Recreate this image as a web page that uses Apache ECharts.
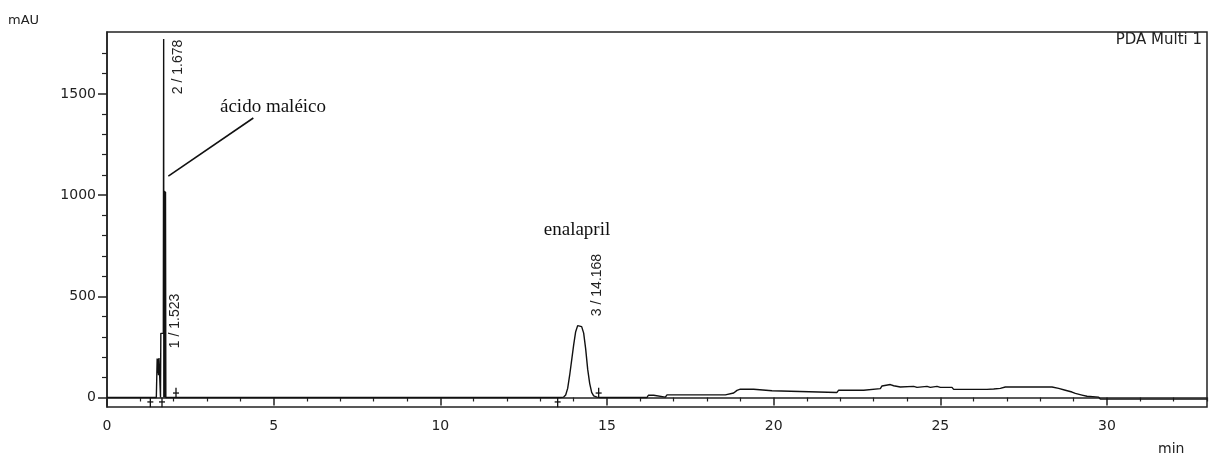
<!DOCTYPE html>
<html>
<head>
<meta charset="utf-8">
<script src="https://cdn.jsdelivr.net/npm/echarts@6/dist/echarts.min.js"></script>
<style>
  html, body { margin: 0; padding: 0; background: #fff; }
  #chart { width: 1215px; height: 455px; }
</style>
</head>
<body>
<div id="chart"></div>
<script>
// retention time (min) and absorbance (mAU) of the PDA trace
var traceTime = [
  0, 1.48, 1.50, 1.505, 1.53, 1.535, 1.54, 1.545, 1.55, 1.56, 1.60, 1.605, 1.61, 1.615, 1.69,
  1.70, 1.705, 1.715, 1.725, 1.735, 1.745, 1.755, 1.765, 1.80,
  13.60, 13.70, 13.76, 13.82, 13.88, 13.94, 14.00, 14.06, 14.12, 14.18, 14.24, 14.30, 14.36,
  14.42, 14.48, 14.54, 14.60, 14.70, 14.80,
  16.20, 16.24, 16.40, 16.45, 16.75, 16.80, 18.55, 18.60, 18.80, 18.90, 19.00, 19.40, 19.45,
  19.95, 20.00, 21.90, 21.95, 22.70, 22.75, 23.20, 23.25, 23.50, 23.60, 23.80, 24.20, 24.30,
  24.60, 24.70, 24.90, 25.00, 25.35, 25.40, 26.40, 26.45, 26.60, 26.80, 26.95, 28.35, 28.55,
  28.75, 28.95, 29.05, 29.25, 29.40, 29.75, 29.80, 33.00
];
var traceAbs = [
  0, 0, 0, 193, 195, 120, 190, 110, 180, 195, 190, 0, 0, 317, 317,
  1772, 0, 1022, 0, 1020, 0, 1015, 0, 0,
  0, 2, 12, 45, 110, 185, 260, 325, 355, 362, 350, 318, 240,
  140, 70, 25, 8, 2, 0,
  0, 11, 11, 2, 2, 13, 13, 20, 22, 35, 41, 41, 33,
  33, 26, 25, 36, 36, 44, 44, 57, 64, 58, 52, 55, 50,
  55, 50, 55, 50, 50, 40, 40, 49, 42, 45, 52, 52, 45,
  36, 27, 20, 12, 6, 2, -8, -8
];

// integration start/end marks: time, side (-1 below baseline, 1 above)
var markTime = [1.30, 1.65, 2.07, 13.52, 14.75];
var markSide = [-1, -1, 1, -1, 1];

// leader line for "ácido maléico"
var leaderLine = [[4.39, 1381], [1.84, 1094]];

var xMajor = [0, 5, 10, 15, 20, 25, 30];
var xMinor = [1, 2, 3, 4, 6, 7, 8, 9, 11, 12, 13, 14, 16, 17, 18, 19, 21, 22, 23, 24, 26, 27, 28, 29, 31, 32, 33];
var yMajor = [0, 500, 1000, 1500];
var yMinor = [100, 200, 300, 400, 600, 700, 800, 900, 1100, 1200, 1300, 1400, 1600, 1700];

var trace = traceTime.map(function (t, i) { return [t, traceAbs[i]]; });
var marks = markTime.map(function (t, i) { return [t, markSide[i]]; });

var chart = echarts.init(document.getElementById('chart'));
var axisFont = { fontFamily: 'DejaVu Sans', fontSize: 14, color: '#222' };
var plain = function (v) { return String(v); };

chart.setOption({
  animation: false,
  backgroundColor: '#fff',
  grid: {
    left: 107, right: 8, top: 32, bottom: 48,
    show: true, borderColor: '#222', borderWidth: 1.5
  },
  xAxis: [
    {
      type: 'value', min: 0, max: 33,
      axisLine: { lineStyle: { color: '#222', width: 1.5 } },
      axisTick: { customValues: xMajor, length: 8, lineStyle: { color: '#222', width: 1.5 } },
      axisLabel: Object.assign({ customValues: xMajor, margin: 12, formatter: plain }, axisFont),
      splitLine: { show: false }
    },
    {
      type: 'value', min: 0, max: 33, position: 'bottom',
      axisLine: { show: false },
      axisTick: { customValues: xMinor, length: 4, lineStyle: { color: '#222', width: 1.2 } },
      axisLabel: { show: false },
      splitLine: { show: false }
    }
  ],
  yAxis: [
    {
      type: 'value', min: -47, max: 1806,
      axisLine: { show: true, lineStyle: { color: '#222', width: 1.5 } },
      axisTick: { show: true, customValues: yMajor, length: 9, lineStyle: { color: '#222', width: 1.5 } },
      axisLabel: Object.assign({ customValues: yMajor, margin: 11, formatter: plain }, axisFont),
      splitLine: { show: false }
    },
    {
      type: 'value', min: -47, max: 1806, position: 'left',
      axisLine: { show: false },
      axisTick: { show: true, customValues: yMinor, length: 5, lineStyle: { color: '#222', width: 1.2 } },
      axisLabel: { show: false },
      splitLine: { show: false }
    }
  ],
  series: [
    {
      name: 'PDA Multi 1',
      type: 'line',
      data: trace,
      showSymbol: false,
      lineStyle: { color: '#111', width: 1.4 }
    },
    {
      name: 'leader',
      type: 'line',
      data: leaderLine,
      showSymbol: false,
      lineStyle: { color: '#111', width: 1.6 }
    },
    {
      name: 'marks',
      type: 'custom',
      data: marks,
      renderItem: function (params, api) {
        var t = api.value(0), side = api.value(1);
        var p0 = api.coord([t, 0]);
        var p1 = api.coord([t, side * 48]);
        var bar = api.coord([t, side * 22]);
        var style = { stroke: '#111', lineWidth: 1.3 };
        return {
          type: 'group',
          children: [
            { type: 'line', shape: { x1: p0[0], y1: p0[1], x2: p1[0], y2: p1[1] }, style: style },
            { type: 'line', shape: { x1: p0[0] - 3, y1: bar[1], x2: p0[0] + 3, y2: bar[1] }, style: style }
          ]
        };
      }
    }
  ],
  graphic: [
    { type: 'text', left: 8, top: 14, style: { text: 'mAU', font: '13px "DejaVu Sans"', fill: '#222' } },
    { type: 'text', left: 1158, top: 442, style: { text: 'min', font: '14px "DejaVu Sans"', fill: '#222' } },
    { type: 'text', right: 13, top: 33, style: { text: 'PDA Multi 1', font: '15px "DejaVu Sans"', fill: '#222' } },
    { type: 'text', x: 220, y: 107, style: { text: 'ácido maléico', font: '19px "Liberation Serif"', fill: '#111', verticalAlign: 'middle' } },
    { type: 'text', x: 577, y: 230, style: { text: 'enalapril', font: '19px "Liberation Serif"', fill: '#111', align: 'center', verticalAlign: 'middle' } },
    { type: 'text', x: 178, y: 67, rotation: Math.PI / 2, style: { text: '2 / 1.678', font: '14px "Liberation Sans"', fill: '#222', align: 'center', verticalAlign: 'middle' } },
    { type: 'text', x: 175, y: 321, rotation: Math.PI / 2, style: { text: '1 / 1.523', font: '14px "Liberation Sans"', fill: '#222', align: 'center', verticalAlign: 'middle' } },
    { type: 'text', x: 597, y: 285, rotation: Math.PI / 2, style: { text: '3 / 14.168', font: '14px "Liberation Sans"', fill: '#222', align: 'center', verticalAlign: 'middle' } }
  ]
});
</script>
</body>
</html>
